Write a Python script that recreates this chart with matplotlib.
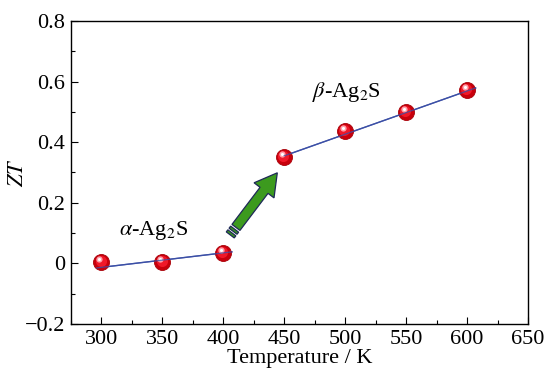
import numpy as np
import matplotlib
matplotlib.use("Agg")
import matplotlib.pyplot as plt
from matplotlib.patches import Polygon
from matplotlib.transforms import offset_copy, IdentityTransform

# measured ZT values
T_alpha = [300, 350, 400]
ZT_alpha = [0.005, 0.005, 0.035]
T_beta = [450, 500, 550, 600]
ZT_beta = [0.352, 0.437, 0.500, 0.573]

# fitted guide lines
fit_T_alpha = [296, 407]
fit_ZT_alpha = [-0.015, 0.038]
fit_T_beta = [450, 607]
fit_ZT_beta = [0.355, 0.579]

plt.rcParams["font.family"] = ["Liberation Serif", "DejaVu Serif"]
plt.rcParams["mathtext.fontset"] = "stix"
FS = 16

fig = plt.figure(figsize=(5.44, 3.74), dpi=100)
ax = fig.add_axes([0.1305, 0.1337, 0.9706 - 0.1305, 0.9439 - 0.1337])
ax.set_xlim(275, 650)
ax.set_ylim(-0.2, 0.8)

LINE = "#3b4fa6"
ax.plot(fit_T_alpha, fit_ZT_alpha, color=LINE, lw=1.0, zorder=2)
ax.plot(fit_T_beta, fit_ZT_beta, color=LINE, lw=1.0, zorder=2)

T_all = T_alpha + T_beta
ZT_all = ZT_alpha + ZT_beta
# shiny red spheres
ax.plot(T_all, ZT_all, "o", ms=11.5, color="#c8000c", mec="#a80008", mew=0.6, zorder=3)
ax.plot(T_all, ZT_all, "o", ms=8, color="#f01828", mec="none", zorder=4,
        transform=offset_copy(ax.transData, fig, x=-0.6, y=0.8, units="points"))
ax.plot(T_all, ZT_all, "o", ms=4.5, color="#ffa0aa", mec="none", zorder=5,
        transform=offset_copy(ax.transData, fig, x=-1.6, y=1.8, units="points"))
ax.plot(T_all, ZT_all, "o", ms=2.2, color="white", mec="none", zorder=6,
        transform=offset_copy(ax.transData, fig, x=-1.8, y=2.2, units="points"))
# guide lines drawn through the spheres as in the original
ax.plot(fit_T_beta, fit_ZT_beta, color=LINE, lw=0.9, zorder=7, alpha=0.8)
ax.plot(fit_T_alpha, fit_ZT_alpha, color=LINE, lw=0.9, zorder=7, alpha=0.8)

# green transition arrow, built in display pixels
p0 = ax.transData.transform((405.7, 0.094))
p1 = ax.transData.transform((444.3, 0.299))
u = (p1 - p0) / np.hypot(*(p1 - p0))
n = np.array([-u[1], u[0]])
L = np.hypot(*(p1 - p0))
hw, hh, hl = 5.0, 12.5, 22.0


def rect(a, b):
    return [p0 + u * a + n * hw, p0 + u * b + n * hw,
            p0 + u * b - n * hw, p0 + u * a - n * hw]


GREEN, EDGE = "#3c9a1e", "#1e2858"
for a, b in [(0, 2.6), (4.6, 7.2)]:
    ax.add_patch(Polygon(rect(a, b), closed=True, transform=IdentityTransform(),
                         fc=GREEN, ec=EDGE, lw=0.9, zorder=8))
s = 9.4
shaft_end = L - hl
pts = [p0 + u * s + n * hw, p0 + u * shaft_end + n * hw, p0 + u * shaft_end + n * hh,
       p1, p0 + u * shaft_end - n * hh, p0 + u * shaft_end - n * hw, p0 + u * s - n * hw]
ax.add_patch(Polygon(pts, closed=True, transform=IdentityTransform(),
                     fc=GREEN, ec=EDGE, lw=0.9, zorder=8))

ax.text(343, 0.107, r"$\alpha$-Ag$_2$S", ha="center", va="center", fontsize=FS)
ax.text(501, 0.566, r"$\beta$-Ag$_2$S", ha="center", va="center", fontsize=FS)

ax.set_xticks(range(300, 651, 50))
ax.set_xticks(range(275, 651, 25), minor=True)
ax.set_yticks(np.arange(-0.2, 0.81, 0.2))
ax.set_yticks(np.arange(-0.2, 0.81, 0.1), minor=True)
ax.set_yticklabels(["\u22120.2", "0", "0.2", "0.4", "0.6", "0.8"])
ax.tick_params(which="both", direction="in", top=False, right=False, labelsize=FS)
ax.tick_params(which="major", length=5, width=0.8, pad=4)
ax.tick_params(which="minor", length=3, width=0.8)
for sp in ax.spines.values():
    sp.set_linewidth(1.0)

ax.set_xlabel("Temperature / K", fontsize=FS, labelpad=0)
ax.set_ylabel(r"$ZT$", fontsize=FS)
ax.yaxis.set_label_coords(-0.094, 0.5)

fig.savefig("out.png", dpi=100)
